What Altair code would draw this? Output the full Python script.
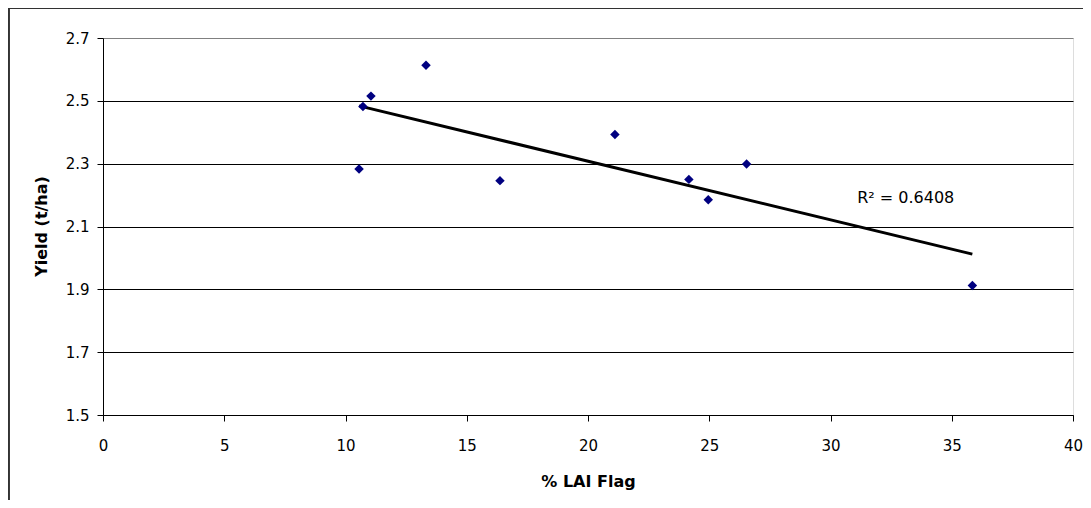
import altair as alt
import pandas as pd

lai_flag = [10.56, 10.72, 11.05, 13.32, 16.37, 21.11, 24.16, 24.96, 26.54, 35.85]
yield_tha = [2.283, 2.482, 2.515, 2.613, 2.246, 2.393, 2.250, 2.185, 2.299, 1.912]
r2_label = ["R\u00b2 = 0.6408"]
r2_pos = [(31.1, 2.175)]
y_ticks = [1.5, 1.7, 1.9, 2.1, 2.3, 2.5, 2.7]
x_ticks = [0, 5, 10, 15, 20, 25, 30, 35, 40]

df = pd.DataFrame({"x": lai_flag, "y": yield_tha})
lab = pd.DataFrame({"x": [p[0] for p in r2_pos], "y": [p[1] for p in r2_pos], "t": r2_label})

FONT = "DejaVu Sans"

xenc = alt.X("x:Q", scale=alt.Scale(domain=[0, 40], nice=False, zero=False),
             axis=alt.Axis(values=x_ticks, title="% LAI Flag", grid=False,
                           domainColor="black", tickColor="black", tickSize=6,
                           labelFont=FONT, labelFontSize=15, labelColor="black",
                           labelPadding=17, labelFlush=False,
                           titleFont=FONT, titleFontSize=16, titleFontWeight="bold",
                           titleColor="black", titleY=71, titleBaseline="alphabetic"))
yenc = alt.Y("y:Q", scale=alt.Scale(domain=[1.5, 2.7], nice=False, zero=False),
             axis=alt.Axis(values=y_ticks, format=".1f", title="Yield (t/ha)",
                           grid=True,
                           gridColor={"condition": {"test": "datum.value > 2.69", "value": "#808080"}, "value": "black"},
                           gridWidth=1,
                           domainColor="black", tickColor="black", tickSize=6,
                           labelFont=FONT, labelFontSize=15, labelColor="black",
                           labelPadding=8,
                           titleFont=FONT, titleFontSize=16, titleFontWeight="bold",
                           titleColor="black", titleX=-57, titleY=188,
                           titleAngle=-90, titleAlign="center", titleBaseline="alphabetic"))

points = alt.Chart(df).mark_point(shape="diamond", filled=True, size=90,
                                  color="#000080", opacity=1).encode(x=xenc, y=yenc)

trend = alt.Chart(df).transform_regression("x", "y").mark_line(
    color="black", strokeWidth=3).encode(x="x:Q", y="y:Q")

text = alt.Chart(lab).mark_text(align="left", baseline="alphabetic", font=FONT,
                                fontSize=16, color="black").encode(
    x="x:Q", y="y:Q", text="t:N")

border_top = alt.Chart(df).mark_rule(color="#333333", strokeWidth=1.5).encode(
    x=alt.value(-95), x2=alt.value(1200), y=alt.value(-30))
border_left = alt.Chart(df).mark_rule(color="#333333", strokeWidth=1.5).encode(
    x=alt.value(-94.5), y=alt.value(-30), y2=alt.value(600))

chart = alt.layer(border_top, border_left, trend, points, text).properties(
    width=970, height=377,
    autosize=alt.AutoSizeParams(type="none"),
    padding={"left": 95, "top": 30, "right": 10, "bottom": 85},
).configure_view(stroke="#808080", strokeWidth=1).configure(background="white")

chart.save("out.html", embed_options={"renderer": "svg", "actions": False})
